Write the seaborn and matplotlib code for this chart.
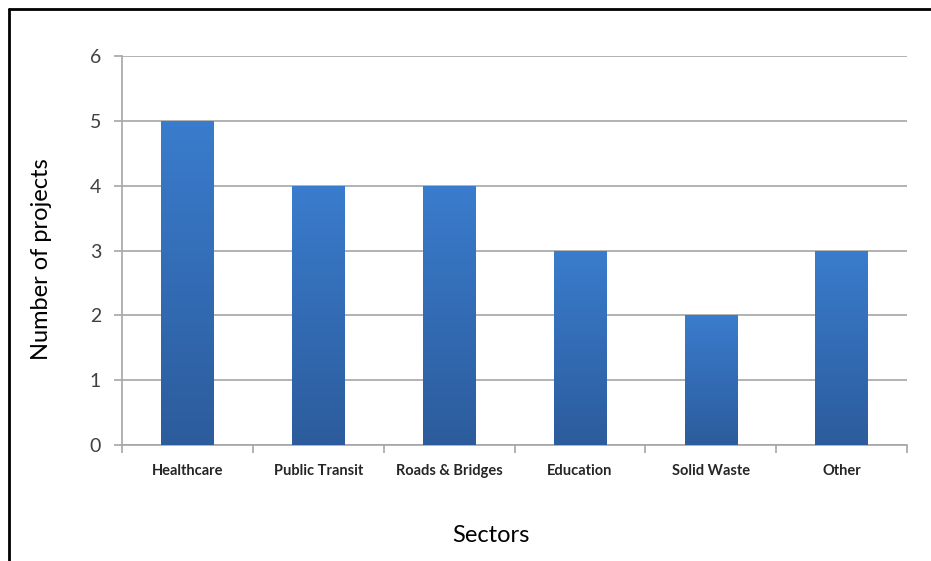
import matplotlib
matplotlib.use("Agg")
import matplotlib.pyplot as plt
import seaborn as sns
import numpy as np
import pandas as pd
from matplotlib.colors import LinearSegmentedColormap
from matplotlib.lines import Line2D

sectors = ["Healthcare", "Public Transit", "Roads & Bridges", "Education", "Solid Waste", "Other"]
projects = [5, 4, 4, 3, 2, 3]
y_ticks = [0, 1, 2, 3, 4, 5, 6]

sns.set_theme(style="white")
plt.rcParams['font.family'] = ['Lato', 'DejaVu Sans']

df = pd.DataFrame({"Sectors": sectors, "Number of projects": projects})

fig = plt.figure(figsize=(9.31, 5.61), dpi=100)
ax = fig.add_axes([122/931, 1-445/561, (907-122)/931, (445-56)/561])

sns.barplot(data=df, x="Sectors", y="Number of projects", color="#3573c0",
            width=0.4, ax=ax, saturation=1)

# gradient fill for bars
cmap = LinearSegmentedColormap.from_list("g", ["#2c5c9c", "#3a7ccd"])
grad = np.linspace(0, 1, 256).reshape(-1, 1)
for p in ax.patches:
    x0, y0 = p.get_x(), p.get_y()
    w, h = p.get_width(), p.get_height()
    p.set_facecolor("none")
    p.set_edgecolor("none")
    im = ax.imshow(grad, extent=[x0, x0+w, y0, y0+h], origin="lower",
                   cmap=cmap, aspect="auto", zorder=3)
    im.set_clip_path(p)
ax.set_xlim(-0.5, len(sectors)-0.5)
ax.set_ylim(0, 6)
ax.set_yticks(y_ticks)

# grid
ax.yaxis.grid(True, color="#a6a6a6", linewidth=1.2)
ax.set_axisbelow(True)
for s in ["top", "right"]:
    ax.spines[s].set_visible(False)
for s in ["left", "bottom"]:
    ax.spines[s].set_color("#a6a6a6")
    ax.spines[s].set_linewidth(1.2)

# y ticks
ax.tick_params(axis="y", which="major", left=True, length=6, width=1.2, color="#a6a6a6",
               labelsize=14, labelcolor="#404040", pad=9)
# x tick labels at centers, tick marks at boundaries
ax.tick_params(axis="x", which="major", bottom=False, labelsize=10.5, labelcolor="#262626", pad=8)
for lbl in ax.get_xticklabels():
    lbl.set_fontweight("bold")
ax.set_xticks(np.arange(-0.5, len(sectors)), minor=True)
ax.tick_params(axis="x", which="minor", bottom=True, length=6, width=1.2, color="#a6a6a6")

ax.set_xlabel("Sectors", fontsize=17, color="black", va="center")
ax.xaxis.set_label_coords((491-122)/785, (445-535)/389)
ax.set_ylabel("Number of projects", fontsize=17, color="black", va="center")
ax.yaxis.set_label_coords((42-122)/785, (445-259)/389)

# outer frame (left and top borders)
fig.add_artist(Line2D([9/931, 9/931], [0, 1-9/561], transform=fig.transFigure, color="black", linewidth=2))
fig.add_artist(Line2D([9/931, 1], [1-9/561, 1-9/561], transform=fig.transFigure, color="black", linewidth=2))

fig.savefig("out.png", dpi=100)
